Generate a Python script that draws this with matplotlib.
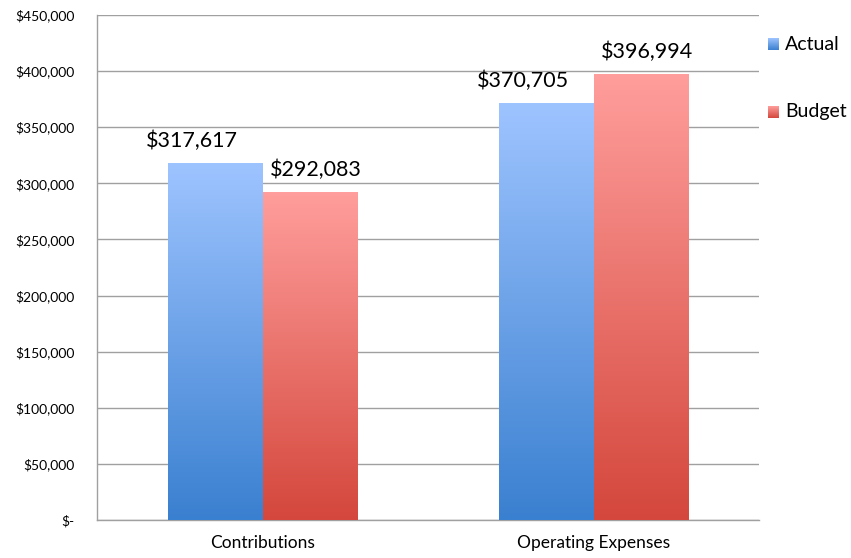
import numpy as np
import matplotlib.pyplot as plt
from matplotlib.colors import LinearSegmentedColormap
from matplotlib.ticker import FuncFormatter

plt.rcParams['font.family'] = ['Lato', 'DejaVu Sans']

# -----------------------------
# Data
# -----------------------------
categories = ["Contributions", "Operating Expenses"]
actual = [317617, 370705]
budget = [292083, 396994]
series_names = ["Actual", "Budget"]

# gradient colors (bottom, top)
actual_cmap = LinearSegmentedColormap.from_list("act", ["#3a80d0", "#9ec4ff"])
budget_cmap = LinearSegmentedColormap.from_list("bud", ["#d4473c", "#ff9e9c"])

# -----------------------------
# Plot
# -----------------------------
fig = plt.figure(figsize=(8.51, 5.58), dpi=100)
ax = fig.add_axes([97 / 851, 38 / 558, 662 / 851, 505 / 558])

x = np.arange(len(categories))
width = 0.287
gradient = np.linspace(0, 1, 256).reshape(-1, 1)

for vals, cmap, off, dx in [(actual, actual_cmap, -width / 2, -16.5),
                            (budget, budget_cmap, width / 2, 4)]:
    bars = ax.bar(x + off, vals, width, color="none", edgecolor="none", zorder=3)
    for b, v in zip(bars, vals):
        x0 = b.get_x()
        ax.imshow(gradient, extent=(x0, x0 + width, 0, v), origin="lower",
                  aspect="auto", cmap=cmap, zorder=3)
        ax.annotate(f"${v:,.0f}", (x0 + width / 2, v), xytext=(dx, 9),
                    textcoords="offset points", ha="center", va="bottom",
                    fontsize=15.5, color="black")

ax.set_xlim(-0.5, 1.5)
ax.set_ylim(0, 450000)
ax.set_yticks(np.arange(0, 450001, 50000))
ax.yaxis.set_major_formatter(FuncFormatter(lambda v, p: "$-" if v == 0 else f"${v:,.0f}"))
ax.set_xticks(x)
ax.set_xticklabels(categories, fontsize=12.5)
ax.tick_params(axis="y", length=0, labelsize=10, pad=16)
ax.tick_params(axis="x", length=0, pad=11)
ax.grid(axis="y", color="#a0a0a0", linewidth=1, zorder=0)
ax.set_axisbelow(True)
for s in ["top", "right"]:
    ax.spines[s].set_visible(False)
for s in ["left", "bottom"]:
    ax.spines[s].set_color("#a0a0a0")
    ax.spines[s].set_linewidth(1)

# Legend (manual, gradient squares)
for i, (name, cmap) in enumerate(zip(series_names, [actual_cmap, budget_cmap])):
    y = 1 - 44 / 558 - i * 68 / 558
    lax = fig.add_axes([768 / 851, y - 6 / 558, 11 / 851, 12 / 558])
    lax.imshow(gradient, origin="lower", aspect="auto", cmap=cmap)
    lax.axis("off")
    fig.text(785 / 851, y, name, fontsize=14, va="center", ha="left")

fig.savefig("out.png", dpi=100)
